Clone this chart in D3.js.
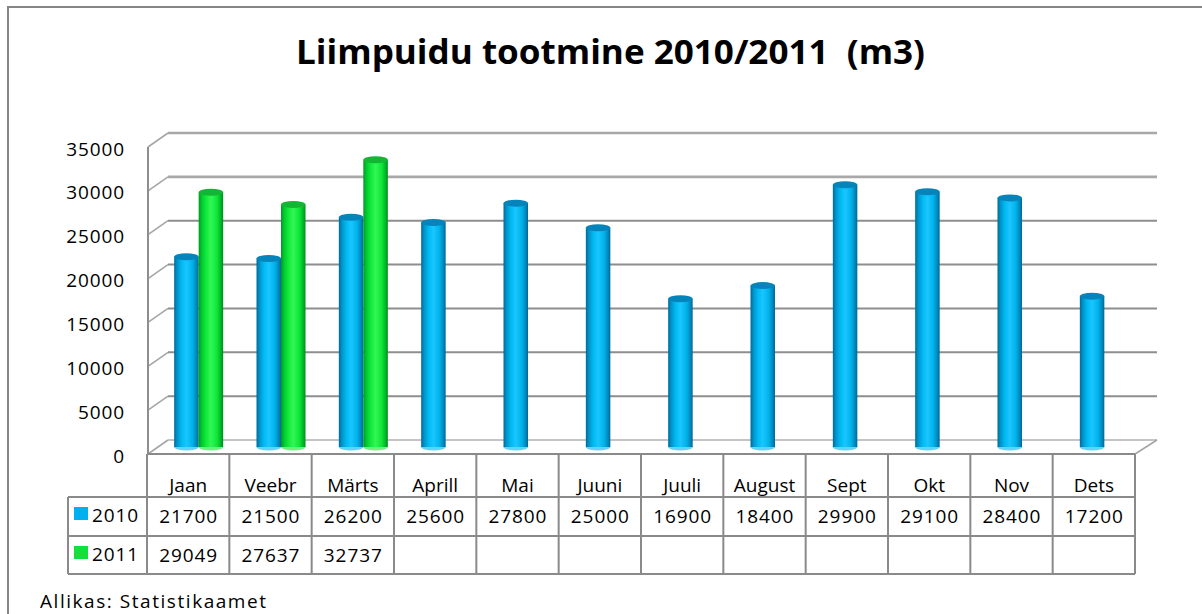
<!DOCTYPE html>
<html>
<head>
<meta charset="utf-8">
<script src="https://cdn.jsdelivr.net/npm/d3@7"></script>
<style>
  html, body { margin: 0; padding: 0; background: #fff; }
  svg { display: block; font-family: "Open Sans", Lato, "Liberation Sans", sans-serif; }
</style>
</head>
<body>
<svg id="chart" width="1202" height="614"></svg>
<script>
const months = ["Jaan","Veebr","Märts","Aprill","Mai","Juuni","Juuli","August","Sept","Okt","Nov","Dets"];
const seriesNames = ["2010","2011"];
const values2010 = [21700,21500,26200,25600,27800,25000,16900,18400,29900,29100,28400,17200];
const values2011 = [29049,27637,32737,null,null,null,null,null,null,null,null,null];
const yTicks = [0,5000,10000,15000,20000,25000,30000,35000];
const titleText = "Liimpuidu tootmine 2010/2011  (m3)";
const sourceText = "Allikas: Statistikaamet";

const seriesValues = [values2010, values2011];
const colors = {
  "2010": {key:"#00b0f0", top:"#0584bb", bottom:"#62d2f8",
           stops:[["0%","#006b9a"],["12%","#0092c9"],["30%","#00b9f1"],["50%","#1ac6ff"],["75%","#00b2ea"],["90%","#0089bd"],["100%","#006896"]]},
  "2011": {key:"#14e03a", top:"#12b634", bottom:"#70f080",
           stops:[["0%","#009820"],["12%","#00c82e"],["30%","#10ea3a"],["50%","#32f654"],["75%","#0ee638"],["90%","#00b82a"],["100%","#008c1e"]]}
};
const FS = 19;
const numSpacing = 0.9;

const svg = d3.select("#chart");
const defs = svg.append("defs");
seriesNames.forEach(s => {
  const g = defs.append("linearGradient").attr("id","grad"+s).attr("x1","0").attr("x2","1").attr("y1","0").attr("y2","0");
  colors[s].stops.forEach(st => g.append("stop").attr("offset", st[0]).attr("stop-color", st[1]));
});

// outer frame (clipped by window)
svg.append("path").attr("d","M8,614 L8,7 L1202,7").attr("fill","none").attr("stroke","#868686").attr("stroke-width",2);

// title
svg.append("text").attr("x",610.5).attr("y",63.5).attr("text-anchor","middle")
  .attr("font-weight","bold").attr("font-size",34).attr("fill","#000")
  .style("white-space","pre")
  .attr("textLength",629).attr("lengthAdjust","spacingAndGlyphs")
  .text(titleText);

// scales
const depthX = 20, depthY = 14;
const yBack = d3.scaleLinear().domain([0,35000]).range([440,133]);
const yBar = d3.scaleLinear().domain([0,35000]).range([447,140]);
const x = d3.scaleBand().domain(months).range([147,1135]).padding(0);
const xs = d3.scaleBand().domain(seriesNames).range([-14,35]).padding(0);
const backLeft = 168, backRight = 1157, frontLeft = 148;

// walls / gridlines
const grid = svg.append("g");
yTicks.forEach(t => {
  const yb = yBack(t);
  grid.append("line").attr("x1",backLeft).attr("x2",backRight).attr("y1",yb).attr("y2",yb)
    .attr("stroke", t === 0 ? "#c4c4c4" : (t >= 30000 ? "#a8a8a8" : "#8e8e8e")).attr("stroke-width", t >= 30000 ? 2.6 : 2);
  grid.append("line").attr("x1",frontLeft).attr("y1",yb+depthY).attr("x2",backLeft).attr("y2",yb)
    .attr("stroke","#a6a6a6").attr("stroke-width",1.6);
});
grid.append("line").attr("x1",frontLeft).attr("x2",frontLeft).attr("y1",yBack(35000)+depthY).attr("y2",yBack(0)+depthY)
  .attr("stroke","#8e8e8e").attr("stroke-width",2);
grid.append("line").attr("x1",1135).attr("y1",yBack(0)+depthY).attr("x2",backRight).attr("y2",yBack(0))
  .attr("stroke","#a6a6a6").attr("stroke-width",1.6);

// y-axis labels
const yLabel = d3.scaleLinear().domain([0,35000]).range([yBack(0)+16, yBack(35000)+16]);
const yAxis = svg.append("g").attr("transform","translate(125,0)")
  .call(d3.axisLeft(yLabel).tickValues(yTicks).tickSize(0).tickPadding(0).tickFormat(d3.format("d")));
yAxis.select(".domain").remove();
yAxis.selectAll("text").attr("font-size",FS).attr("fill","#000").attr("letter-spacing",numSpacing)
  .style("font-family","'Open Sans', Lato, sans-serif");

// bars (cylinders)
const bw = xs.bandwidth();
const barsG = svg.append("g");
seriesNames.forEach((s, si) => {
  const vals = seriesValues[si];
  const data = months.map((m,i) => ({m, v: vals[i]})).filter(d => d.v != null);
  const g = barsG.append("g");
  const cx = d => x(d.m) + x.bandwidth()/2 + xs(s) + bw/2;
  g.selectAll("ellipse.bot").data(data).join("ellipse").attr("class","bot")
    .attr("cx", cx).attr("cy", yBar(0)).attr("rx", bw/2).attr("ry",3.5).attr("fill", colors[s].bottom);
  g.selectAll("rect").data(data).join("rect")
    .attr("x", d => cx(d) - bw/2).attr("width", bw)
    .attr("y", d => yBar(d.v)).attr("height", d => yBar(0) - yBar(d.v))
    .attr("fill","url(#grad"+s+")");
  g.selectAll("ellipse.top").data(data).join("ellipse").attr("class","top")
    .attr("cx", cx).attr("cy", d => yBar(d.v)).attr("rx", bw/2).attr("ry",3.5).attr("fill", colors[s].top);
});

// data table
const tbl = svg.append("g");
const lineCol = "#8a8a8a";
const rowTop = yBack(0)+depthY, hdrBottom = 497, row1Bottom = 536, row2Bottom = 574, legLeft = 68;
tbl.append("line").attr("x1",147).attr("x2",1135).attr("y1",rowTop).attr("y2",rowTop).attr("stroke",lineCol).attr("stroke-width",2);
[hdrBottom,row1Bottom,row2Bottom].forEach(yy => tbl.append("line").attr("x1",legLeft).attr("x2",1135).attr("y1",yy).attr("y2",yy).attr("stroke",lineCol).attr("stroke-width",2));
tbl.append("line").attr("x1",legLeft).attr("x2",legLeft).attr("y1",hdrBottom).attr("y2",row2Bottom).attr("stroke",lineCol).attr("stroke-width",2);
const bounds = months.map(m => x(m)).concat([x.range()[1]]);
bounds.forEach(bx => tbl.append("line").attr("x1",bx).attr("x2",bx).attr("y1",rowTop).attr("y2",row2Bottom).attr("stroke",lineCol).attr("stroke-width",2));

tbl.selectAll("text.cat").data(months).join("text").attr("class","cat")
  .attr("x", m => x(m) + x.bandwidth()/2).attr("y",492).attr("text-anchor","middle")
  .attr("font-size",FS).attr("fill","#000").text(m => m);

const rowBase = [523, 562];
const rowKeyY = [507, 546];
seriesNames.forEach((s, si) => {
  tbl.append("rect").attr("x",74).attr("y",rowKeyY[si]).attr("width",14).attr("height",13).attr("fill",colors[s].key);
  tbl.append("text").attr("x",92).attr("y",rowBase[si]-1).attr("font-size",FS).attr("letter-spacing",numSpacing).attr("fill","#000").text(s);
  const vals = seriesValues[si];
  tbl.selectAll("text.v"+s).data(months.map((m,i)=>({m, v: vals[i]})).filter(d => d.v != null)).join("text")
    .attr("class","v"+s)
    .attr("x", d => x(d.m) + x.bandwidth()/2 + numSpacing/2).attr("y", rowBase[si]).attr("text-anchor","middle")
    .attr("font-size",FS).attr("letter-spacing",numSpacing).attr("fill","#000").text(d => d.v);
});

// source
svg.append("text").attr("x",40).attr("y",608).attr("font-size",FS).attr("fill","#000")
  .attr("textLength",226).attr("lengthAdjust","spacing").text(sourceText);
</script>
</body>
</html>
